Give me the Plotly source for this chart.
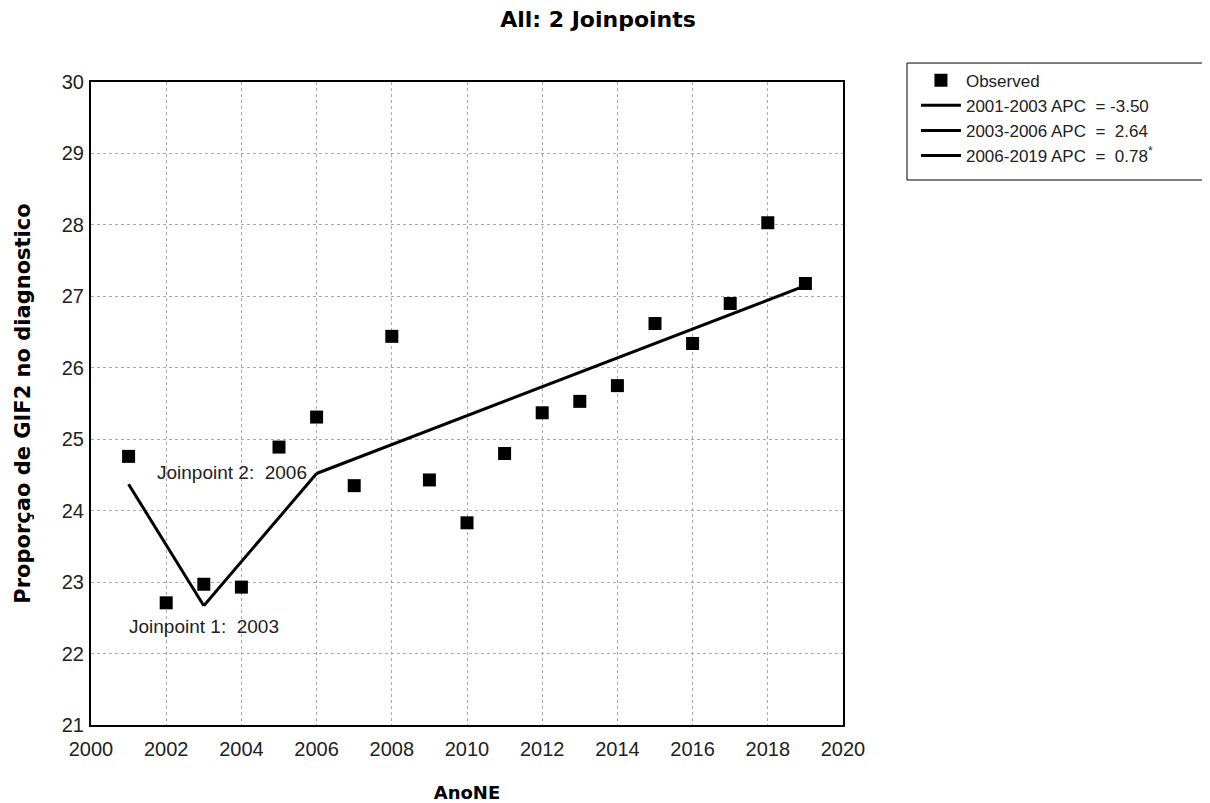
import plotly.graph_objects as go

# ---- data ----
years = [2001, 2002, 2003, 2004, 2005, 2006, 2007, 2008, 2009, 2010,
         2011, 2012, 2013, 2014, 2015, 2016, 2017, 2018, 2019]
observed = [24.76, 22.71, 22.97, 22.93, 24.89, 25.31, 24.35, 26.44, 24.43, 23.83,
            24.80, 25.37, 25.53, 25.75, 26.62, 26.34, 26.90, 28.03, 27.18]

seg_years = [[2001, 2003], [2003, 2006], [2006, 2019]]
seg_fitted = [[24.37, 22.67], [22.67, 24.52], [24.52, 27.15]]
seg_labels = ["2001-2003 APC  = -3.50",
              "2003-2006 APC  =  2.64",
              "2006-2019 APC  =  0.78<sup>*</sup>"]

joinpoint_years = [2003, 2006]
joinpoint_labels = ["Joinpoint 1:  2003", "Joinpoint 2:  2006"]

x_ticks = list(range(2000, 2021, 2))
y_ticks = list(range(21, 31))

fig = go.Figure()

fig.add_trace(go.Scatter(
    x=years, y=observed, mode="markers", name="Observed",
    marker=dict(symbol="square", size=13, color="black"),
))

for xs, ys, lab in zip(seg_years, seg_fitted, seg_labels):
    fig.add_trace(go.Scatter(
        x=xs, y=ys, mode="lines", name=lab,
        line=dict(color="black", width=3),
    ))

# Joinpoint annotations
jp_vals = [seg_fitted[0][1], seg_fitted[1][1]]
ann_font = dict(family="Liberation Sans, Arial", size=19, color="#222")
fig.add_annotation(x=joinpoint_years[0], y=jp_vals[0], text=joinpoint_labels[0],
                   showarrow=False, xanchor="center", yanchor="top", yshift=-8,
                   font=ann_font)
fig.add_annotation(x=joinpoint_years[1], y=jp_vals[1], text=joinpoint_labels[1],
                   showarrow=False, xanchor="right", yanchor="middle", xshift=-8, yshift=1,
                   font=ann_font)

# legend frame (drawn as a shape so it can be wider than the legend text)
fig.add_shape(type="rect", xref="paper", yref="paper",
              x0=1.0851, x1=1.4800, y0=0.8476, y1=1.0295,
              line=dict(color="black", width=1), fillcolor="rgba(0,0,0,0)", layer="above")

axis_common = dict(
    showline=True, linecolor="black", linewidth=2, mirror=True,
    showgrid=True, gridcolor="#aaa", griddash="dot", gridwidth=1,
    zeroline=False, ticks="", automargin=False,
    tickfont=dict(family="Liberation Sans, Arial", size=20, color="#222"),
    title_font=dict(family="DejaVu Sans", color="black"),
)

fig.update_xaxes(range=[2000, 2020], tickvals=x_ticks, ticktext=[str(t) for t in x_ticks],
                 title_text="<b>AnoNE</b>", title_standoff=29, ticklabelstandoff=5,
                 title_font_size=18,
                 **axis_common)
fig.update_yaxes(range=[21, 30], tickvals=y_ticks, ticktext=[str(t) for t in y_ticks],
                 title_text="<b>Proporçao de GIF2 no diagnostico</b>", title_standoff=25,
                 ticklabelstandoff=1, title_font_size=21,
                 **axis_common)

fig.update_layout(
    width=1202, height=795,
    margin=dict(l=83, r=367, t=74, b=78),
    paper_bgcolor="white", plot_bgcolor="white",
    title=dict(text="<b>All: 2 Joinpoints</b>", x=590 / 1202, xref="container", xanchor="center",
               y=1 - 11 / 795, yref="container", yanchor="middle",
               font=dict(family="DejaVu Sans", size=22, color="black")),
    showlegend=True,
    legend=dict(x=1.097, y=1.03, xanchor="left", yanchor="top",
                borderwidth=0, bgcolor="rgba(0,0,0,0)",
                font=dict(family="Liberation Sans, Arial", size=17, color="#222"),
                tracegroupgap=0, itemwidth=40),
)

fig.write_html("out.html")
